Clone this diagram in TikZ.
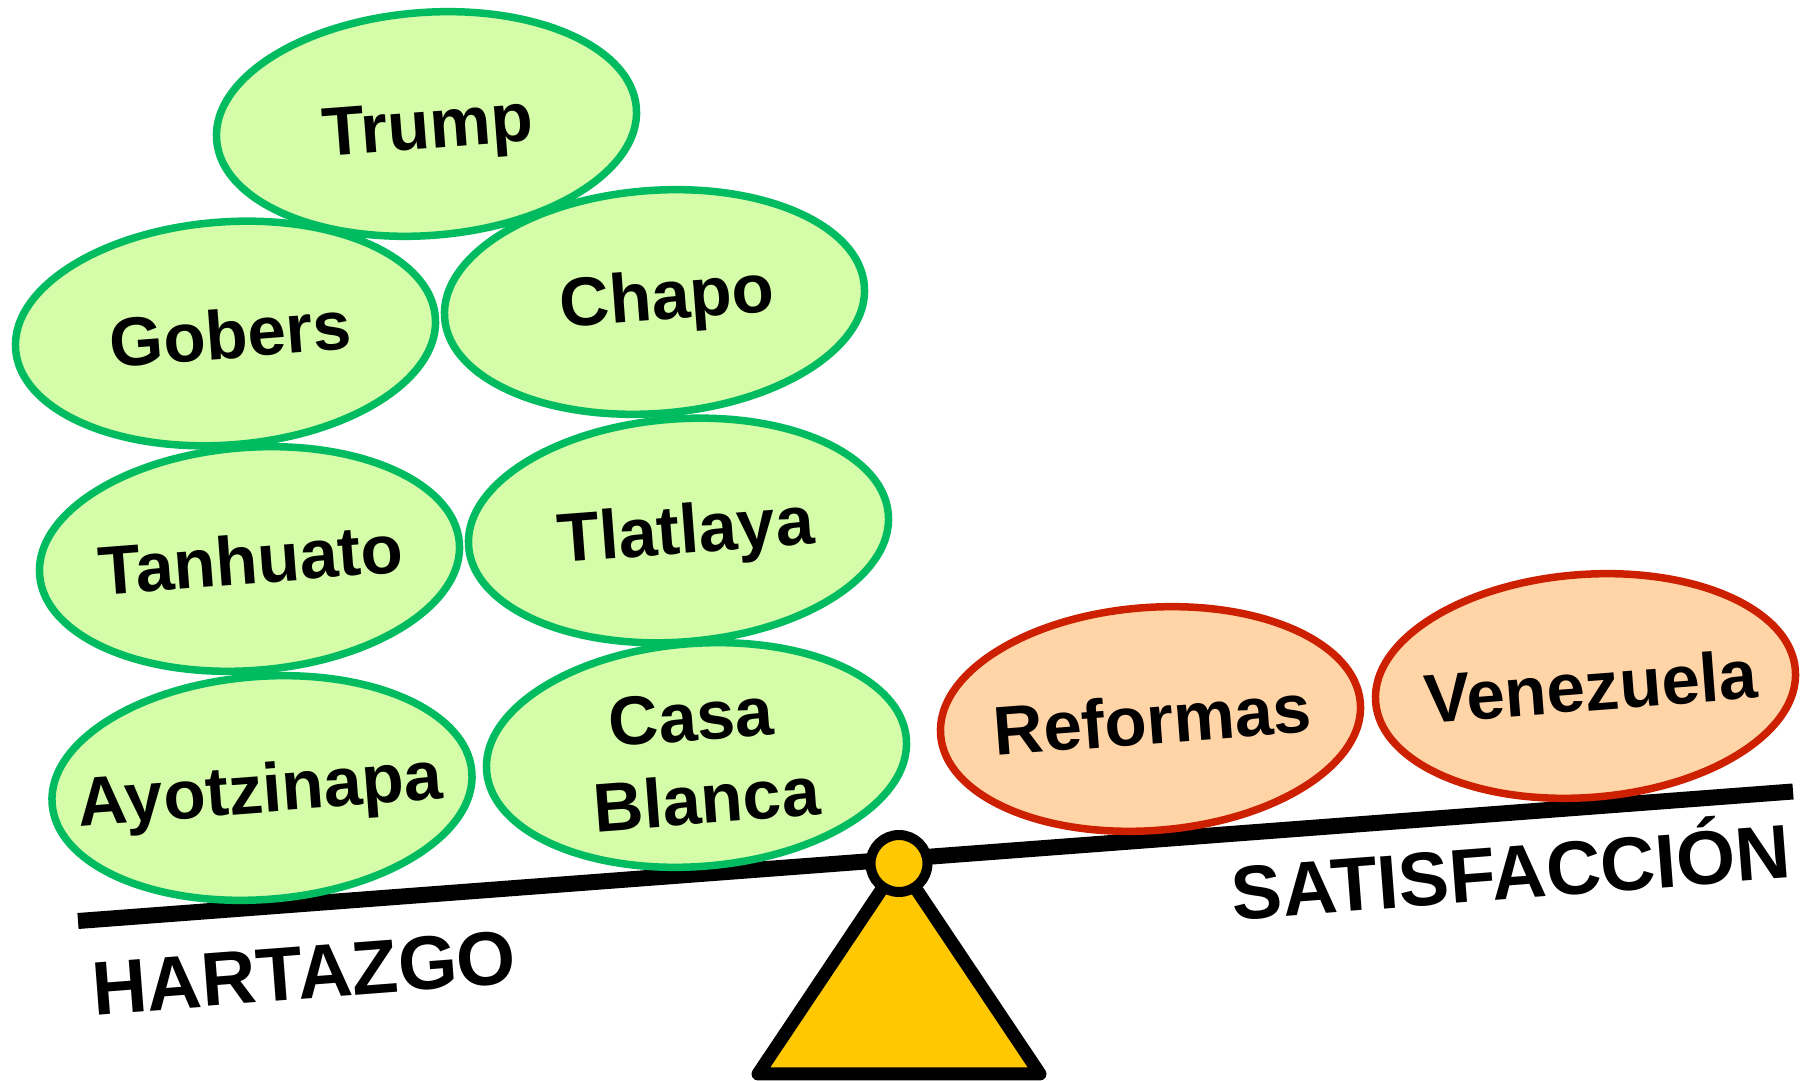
\documentclass[tikz,border=0pt]{standalone}
\usepackage{fontspec}
\setmainfont{Liberation Sans}
\usetikzlibrary{shapes.geometric}
\definecolor{gfill}{RGB}{213,252,168}
\definecolor{gline}{RGB}{0,187,96}
\definecolor{rfill}{RGB}{255,213,168}
\definecolor{rline}{RGB}{204,32,0}
\definecolor{piv}{RGB}{255,200,0}
\begin{document}
\begin{tikzpicture}[x=1pt,y=1pt,
  bub/.style={ellipse, draw, line width=7.5pt, minimum width=421pt, minimum height=223pt, inner sep=0pt, rotate=4.37},
  gbub/.style={bub, fill=gfill, draw=gline},
  rbub/.style={bub, fill=rfill, draw=rline},
  txt/.style={font=\fontsize{69}{84}\selectfont\bfseries, text height=49.4pt, text depth=0pt, inner sep=0pt, rotate=4.37},
  txttwo/.style={font=\fontsize{69}{84}\selectfont\bfseries, inner sep=0pt, rotate=4.37, align=center},
  lab/.style={font=\fontsize{76}{90}\selectfont\bfseries, text height=54.4pt, text depth=0pt, inner sep=0pt, rotate=4.37}]
\useasboundingbox (0,0) rectangle (1812,1081);
\fill[white] (0,0) rectangle (1812,1081);

% fulcrum
\coordinate (apex) at (899,217.5);
\coordinate (bl) at (758,7);
\coordinate (br) at (1040,7);
\draw[line width=13pt, line join=round, fill=piv] (apex) -- (bl) -- (br) -- cycle;

% beam
\coordinate (beamL) at (78,160);
\coordinate (beamR) at (1793,289.5);
\draw[line width=16pt] (beamL) -- (beamR);
\node[circle, draw, line width=10pt, fill=piv, minimum size=57pt, inner sep=0pt] (pivot) at (apex) {};

% green bubbles
\node[gbub] (trump) at (426.5,957) {};
\node[txt] (trumpT) at ([xshift=1pt]trump.center) {Trump};
\node[gbub] (gobers) at (225.5,747.5) {};
\node[txt] (gobersT) at ([xshift=5pt]gobers.center) {Gobers};
\node[gbub] (chapo) at (654.5,779) {};
\node[txt] (chapoT) at ([xshift=12pt,yshift=7pt]chapo.center) {Chapo};
\node[gbub] (tanhuato) at (249.5,522) {};
\node[txt] (tanhuatoT) at ([xshift=1pt]tanhuato.center) {Tanhuato};
\node[gbub] (tlatlaya) at (678.5,550.5) {};
\node[txt] (tlatlayaT) at ([xshift=7pt,yshift=2pt]tlatlaya.center) {Tlatlaya};
\node[gbub] (ayotz) at (262,293) {};
\node[txt] (ayotzT) at ([xshift=-2pt]ayotz.center) {Ayotzinapa};
\node[gbub] (casa) at (696.5,326) {};
\node[txttwo] (casaT) at ([xshift=7pt,yshift=-3pt]casa.center) {Casa\hspace*{19pt}\\Blanca};

% red bubbles
\node[rbub] (reformas) at (1150.5,362) {};
\node[txt] (reformasT) at ([xshift=2pt]reformas.center) {Reformas};
\node[rbub] (venez) at (1585.5,395) {};
\node[txt] (venezT) at ([xshift=5pt]venez.center) {Venezuela};

% side labels
\node[lab] (hart) at (304,109) {HARTAZGO};
\node[lab] (satis) at (1511,209) {SATISFACCIÓN};
\end{tikzpicture}
\end{document}
